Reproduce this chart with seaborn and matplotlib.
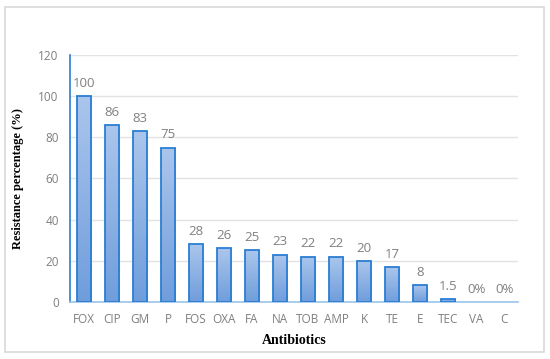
import matplotlib
matplotlib.use('Agg')
import matplotlib.pyplot as plt
import numpy as np
import pandas as pd
import seaborn as sns
from matplotlib.patches import Rectangle
from matplotlib.colors import LinearSegmentedColormap

# data
antibiotics = ['FOX', 'CIP', 'GM', 'P', 'FOS', 'OXA', 'FA', 'NA', 'TOB', 'AMP',
               'K', 'TE', 'E', 'TEC', 'VA', 'C']
resistance = [100, 86, 83, 75, 28, 26, 25, 23, 22, 22, 20, 17, 8, 1.5, 0, 0]
bar_labels = ['100', '86', '83', '75', '28', '26', '25', '23', '22', '22',
              '20', '17', '8', '1.5', '0%', '0%']

df = pd.DataFrame({'antibiotic': antibiotics, 'resistance': resistance})

sns.set_style("white")
fig = plt.figure(figsize=(5.5, 3.59), dpi=100)
ax = fig.add_axes([0.127, 0.159, 0.815, 0.688])

sns.barplot(x='antibiotic', y='resistance', data=df, ax=ax, width=0.5,
            color='#8fb1e0', edgecolor='#2a7ed3', linewidth=1.3, zorder=4)

# gradient fill inside each bar, edge kept on top
cmap = LinearSegmentedColormap.from_list('grad', ['#6f9ddc', '#abc6ec'])
grad = np.linspace(0, 1, 256).reshape(-1, 1)
for p in ax.patches:
    h = p.get_height()
    if h <= 0:
        p.set_visible(False)
        continue
    x0 = p.get_x()
    w = p.get_width()
    im = ax.imshow(grad, cmap=cmap, aspect='auto', origin='lower',
                   extent=[x0, x0 + w, 0, h], zorder=3)
    im.set_clip_path(p)
    p.set_facecolor('none')

ax.set_xlim(-0.5, len(antibiotics) - 0.5)
ax.set_ylim(0, 120)
ax.set_yticks(range(0, 121, 20))
ax.yaxis.grid(True, color='#e3e3e3', linewidth=1, zorder=0)
ax.set_axisbelow(True)

for i, (v, lab) in enumerate(zip(resistance, bar_labels)):
    ax.text(i, v + 3, lab, ha='center', va='bottom', fontsize=9.5,
            color='#808080', family='Open Sans')

for s in ['top', 'right']:
    ax.spines[s].set_visible(False)
ax.spines['left'].set_color('#2a7ed3')
ax.spines['left'].set_linewidth(1.2)
ax.spines['bottom'].set_color('#9cc3ea')
ax.spines['bottom'].set_linewidth(1.2)

ax.tick_params(axis='both', length=0, labelsize=8.5, colors='#7f7f7f', pad=8)
for lab in ax.get_xticklabels() + ax.get_yticklabels():
    lab.set_family('Open Sans')

ax.set_xlabel('Antibiotics', fontsize=10, fontweight='bold',
              family='Liberation Serif', color='black', labelpad=6)
ax.set_ylabel('Resistance percentage (%)', fontsize=9, fontweight='bold',
              family='Liberation Serif', color='black', labelpad=10)

# light frame around the whole figure
fig.patches.append(Rectangle((5 / 550, 7 / 359), 539 / 550, 345 / 359,
                             transform=fig.transFigure, fill=False,
                             edgecolor='#d9d9d9', linewidth=1.2))

plt.savefig('out.png', dpi=100)
